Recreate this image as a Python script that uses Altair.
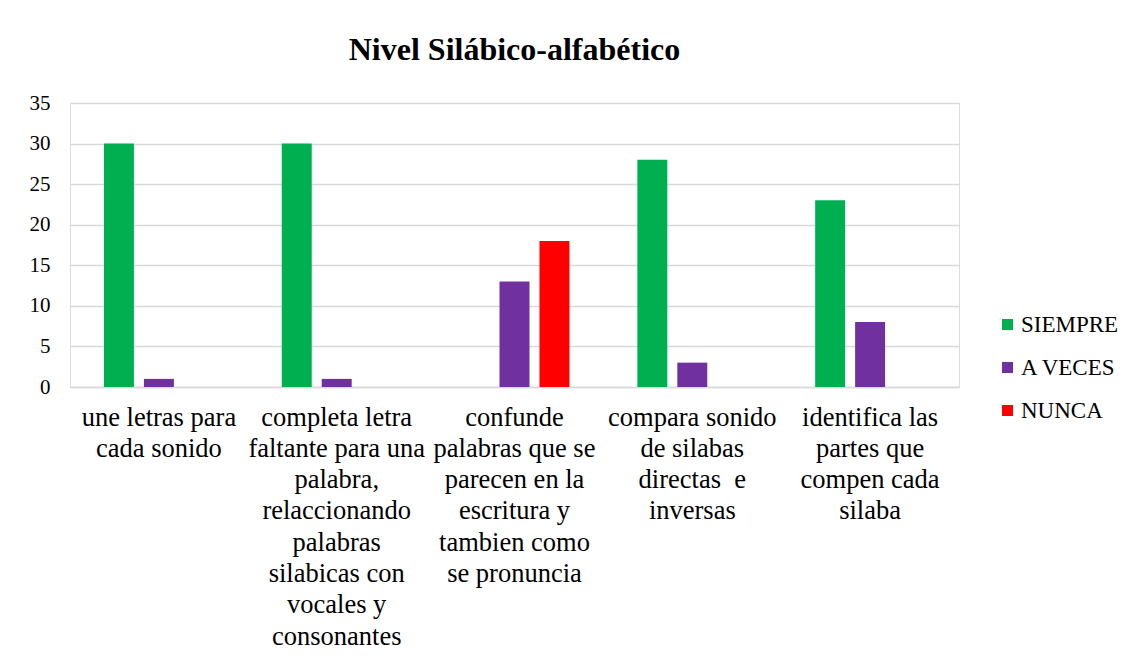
import altair as alt
import pandas as pd

title = "Nivel Silábico-alfabético"
category_lines = [
    ["une letras para", "cada sonido"],
    ["completa letra", "faltante para una", "palabra,", "relaccionando", "palabras", "silabicas con", "vocales y", "consonantes"],
    ["confunde", "palabras que se", "parecen en la", "escritura y", "tambien como", "se pronuncia"],
    ["compara sonido", "de silabas", "directas\u00a0 e", "inversas"],
    ["identifica las", "partes que", "compen cada", "silaba"],
]
categories = ["\n".join(lines) for lines in category_lines]
series = ["SIEMPRE", "A VECES", "NUNCA"]
colors = ["#00B050", "#7030A0", "#FF0000"]
siempre = [30, 30, 0, 28, 23]
a_veces = [1, 1, 13, 3, 8]
nunca = [0, 0, 18, 0, 0]
y_ticks = [0, 5, 10, 15, 20, 25, 30, 35]

rows = []
for name, vals in zip(series, [siempre, a_veces, nunca]):
    for c, v in zip(categories, vals):
        rows.append({"categoria": c, "serie": name, "valor": v})
df = pd.DataFrame(rows)

font = "Liberation Serif"

chart = alt.Chart(df).mark_bar().encode(
    x=alt.X("categoria:N", sort=categories, title=None,
            scale=alt.Scale(paddingInner=0.382, paddingOuter=0.191),
            axis=alt.Axis(labelAngle=0, labelExpr="split(datum.label, '\\n')",
                          labelFont=font, labelFontSize=26.5, labelLineHeight=31.3,
                          labelColor="#000000", labelPadding=17, labelLimit=400,
                          ticks=False, domainColor="#d9d9d9", domainWidth=1.5,
                          labelBaseline="top")),
    xOffset=alt.XOffset("serie:N", sort=series,
                        scale=alt.Scale(paddingInner=0.25, paddingOuter=0)),
    y=alt.Y("valor:Q", title=None,
            scale=alt.Scale(domain=[0, 35], nice=False),
            axis=alt.Axis(values=y_ticks, labelFont=font, labelFontSize=21,
                          labelColor="#000000", labelPadding=20, ticks=False,
                          domain=False, gridColor="#d9d9d9", gridWidth=1.5)),
    color=alt.Color("serie:N", sort=series,
                    scale=alt.Scale(domain=series, range=colors),
                    legend=alt.Legend(title=None, orient="none", legendX=926, legendY=210,
                                      symbolType="square", symbolSize=121,
                                      symbolStrokeWidth=0,
                                      labelFont=font, labelFontSize=23,
                                      labelColor="#000000", rowPadding=19,
                                      labelOffset=2, padding=0)),
).properties(
    width=889,
    height=284,
    title=alt.TitleParams(title, font=font, fontSize=32, fontWeight="bold",
                          color="#000000", anchor="middle", baseline="alphabetic",
                          offset=0),
    autosize=alt.AutoSizeParams(type="none"),
    padding={"left": 62, "top": 95, "right": 170, "bottom": 268},
).configure_view(stroke=None).configure(background="#ffffff")

chart.save("out.html", embed_options={"renderer": "svg", "actions": False})
